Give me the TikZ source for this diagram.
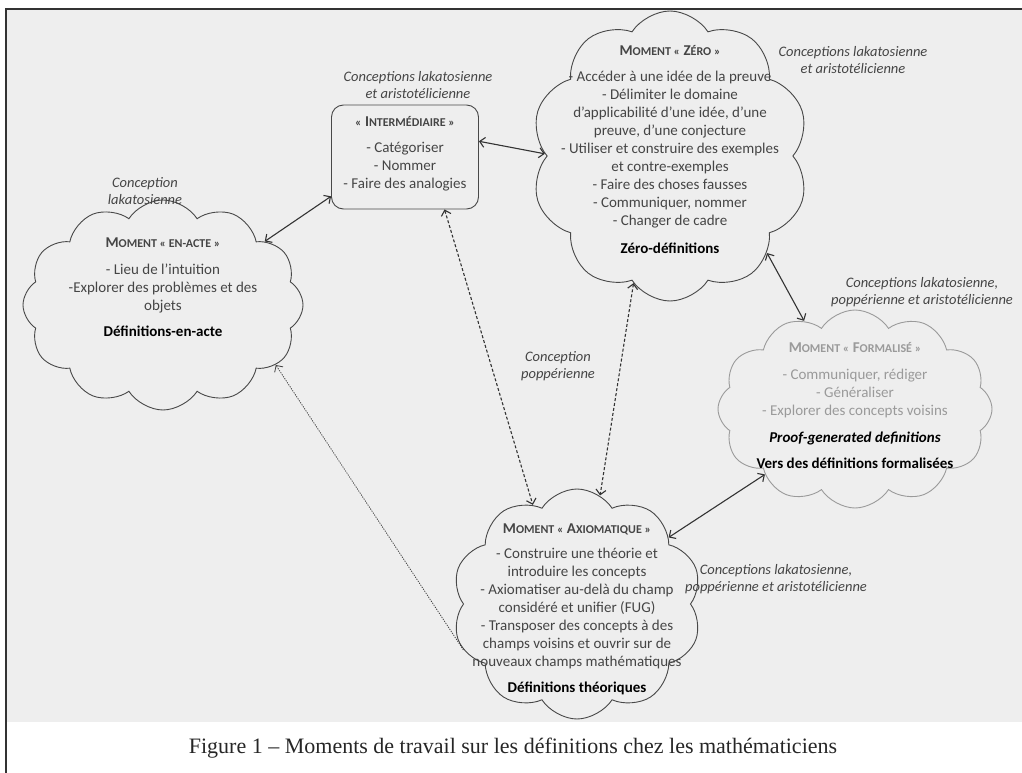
\documentclass[tikz,border=0pt]{standalone}
\usepackage{fontspec}
\setmainfont{Carlito}
\newfontfamily\captionfont{Liberation Serif}
\usetikzlibrary{shapes.symbols,arrows.meta}

\definecolor{PageGrey}{HTML}{EEEEEE}
\definecolor{LineGrey}{HTML}{484848}
\definecolor{BodyGrey}{HTML}{454545}
\definecolor{PaleGrey}{HTML}{9A9A9A}
\newcommand{\Sc}[1]{{\fontsize{12}{14}\selectfont #1}}

\begin{document}
\begin{tikzpicture}[x=1pt, y=-1pt,
CloudStyle/.style={cloud, cloud puffs=#1, cloud puff arc=115, cloud ignores aspect,
                draw=LineGrey, fill=PageGrey, line width=0.9pt, inner sep=0pt},
BoxStyle/.style={draw=LineGrey, fill=PageGrey, rounded corners=12pt, line width=0.9pt,
                inner sep=0pt},
TextStyle/.style={align=center, text=BodyGrey, inner sep=0pt,
                font=\fontsize{15}{18}\selectfont},
LabelStyle/.style={align=center, text=BodyGrey, inner sep=0pt,
                font=\fontsize{14.5}{17}\selectfont\itshape},
LinkStyle/.style={{Straight Barb[length=5pt,width=10pt]}-{Straight Barb[length=5pt,width=10pt]},
                line width=1.1pt, draw=black!80},
DotStyle/.style={-{Straight Barb[length=5pt,width=10pt]}, line width=0.8pt,
                draw=black!75, dash pattern=on 1.2pt off 1.2pt},
]
\useasboundingbox (0,0) rectangle (1022,773);
\fill [PageGrey] (6,9) rectangle (1022,722);
\draw [line width=1.2pt, draw=black!80] (6,773) -- (6,9) -- (1022,9);

% les moments
\node [CloudStyle=12, minimum width=280, minimum height=210] (enacte) at (163,305) {};
\node [BoxStyle, minimum width=147, minimum height=104] (inter) at (405,157) {};
\node [CloudStyle=10, minimum width=278, minimum height=290] (zero) at (670,156) {};
\node [CloudStyle=12, minimum width=274, minimum height=198, draw=PaleGrey] (formal) at (855,409) {};
\node [CloudStyle=10, minimum width=250, minimum height=230] (axio) at (577,604) {};

\node [TextStyle] (enacteText) at (163,287) {\textbf{M\Sc{OMENT « EN-ACTE »}}\\[9pt]
  - Lieu de l’intuition\\-Explorer des problèmes et des\\objets\\[8pt]
  \textcolor{black}{\textbf{Définitions-en-acte}}};
\node [TextStyle] (interText) at (405,154) {\textbf{\Sc{«} I\Sc{NTERMÉDIAIRE »}}\\[8pt]
  - Catégoriser\\- Nommer\\- Faire des analogies};
\node [TextStyle] (zeroText) at (670,150) {\textbf{M\Sc{OMENT «} Z\Sc{ÉRO »}}\\[8pt]
  - Accéder à une idée de la preuve\\- Délimiter le domaine\\
  d’applicabilité d’une idée, d’une\\preuve, d’une conjecture\\
  - Utiliser et construire des exemples\\et contre-exemples\\
  - Faire des choses fausses\\- Communiquer, nommer\\- Changer de cadre\\[10pt]
  \textcolor{black}{\textbf{Zéro-définitions}}};
\node [TextStyle, text=PaleGrey] (formalText) at (855,406) {\textbf{M\Sc{OMENT «} F\Sc{ORMALISÉ »}}\\[9pt]
  - Communiquer, rédiger\\- Généraliser\\- Explorer des concepts voisins\\[9pt]
  \textcolor{black}{\textbf{\textit{Proof-generated definitions}}}\\[8pt]
  \textcolor{black}{\textbf{Vers des définitions formalisées}}};
\node [TextStyle] (axioText) at (577,609) {\textbf{M\Sc{OMENT «} A\Sc{XIOMATIQUE »}}\\[7pt]
  - Construire une théorie et\\introduire les concepts\\
  - Axiomatiser au-delà du champ\\considéré et unifier (FUG)\\
  - Transposer des concepts à des\\champs voisins et ouvrir sur de\\
  nouveaux champs mathématiques\\[8pt]
  \textcolor{black}{\textbf{Définitions théoriques}}};

% les conceptions
\node [LabelStyle] (labInter) at (418,85) {Conceptions lakatosienne\\et aristotélicienne};
\node [LabelStyle] (labZero) at (853,60) {Conceptions lakatosienne\\et aristotélicienne};
\node [LabelStyle] (labEnacte) at (145,191) {Conception\\lakatosienne};
\node [LabelStyle] (labFormal) at (922,292) {Conceptions lakatosienne,\\poppérienne et aristotélicienne};
\node [LabelStyle] (labPopper) at (558,366) {Conception\\poppérienne};
\node [LabelStyle] (labAxio) at (776,579) {Conceptions lakatosienne,\\poppérienne et aristotélicienne};

% liens
\draw [LinkStyle] (enacte.32) -- (inter.208);
\draw [LinkStyle] (inter.12) -- (zero.179);
\draw [LinkStyle] (zero.-45) -- (formal.120);
\draw [LinkStyle] (formal.216) -- (axio.36);
\draw [LinkStyle, dash pattern=on 3pt off 2pt] (inter.-53) -- (axio.114);
\draw [LinkStyle, dash pattern=on 3pt off 2pt] (zero.-106) -- (axio.78);
\draw [DotStyle] (axio.202) -- (enacte.-28);

\node [font=\captionfont\fontsize{22}{26}\selectfont, text=black!85] (caption) at (513,748)
  {Figure 1 – Moments de travail sur les définitions chez les mathématiciens};
\end{tikzpicture}
\end{document}
